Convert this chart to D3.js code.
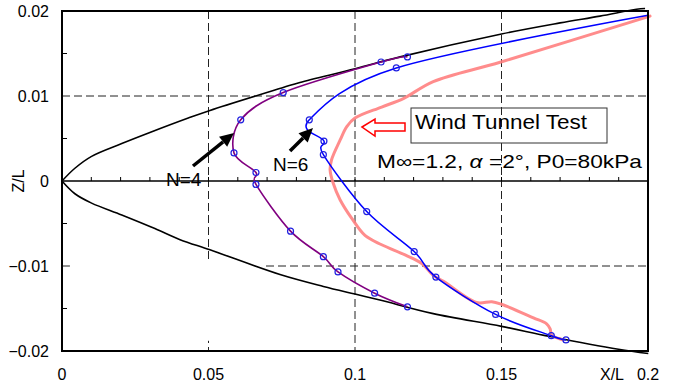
<!DOCTYPE html>
<html>
<head>
<meta charset="utf-8">
<script src="https://cdn.jsdelivr.net/npm/d3@7"></script>
<style>
  body { margin: 0; background: #fff; }
  svg { display: block; }
  text { font-family: "Liberation Sans", Arial, sans-serif; fill: #000; }
</style>
</head>
<body>
<svg id="chart" width="675" height="386"></svg>
<script>
// Axis ticks
const xTickValues = [0, 0.05, 0.1, 0.15, 0.2];
const xTickLabels = ["0", "0.05", "0.1", "0.15", "0.2"];
const yTickValues = [0.02, 0.01, 0, -0.01, -0.02];
const yTickLabels = ["0.02", "0.01", "0", "\u22120.01", "\u22120.02"];

// Body contour (upper and lower surfaces)
const bodyUpperX = [0, 0.0044, 0.0101, 0.0204, 0.0300, 0.0431, 0.0505, 0.0755, 0.0812, 0.1000, 0.1154, 0.1500, 0.1700, 0.1836, 0.1961, 0.1990];
const bodyUpperZ = [0, 0.0015, 0.0029, 0.0044, 0.0057, 0.0074, 0.0083, 0.0110, 0.0116, 0.0132, 0.0146, 0.0173, 0.0186, 0.0194, 0.0202, 0.0203];
const bodyLowerX = [0, 0.0044, 0.0101, 0.0204, 0.0317, 0.0403, 0.0505, 0.0744, 0.0892, 0.1000, 0.1085, 0.1267, 0.1500, 0.1666, 0.1899, 0.2001];
const bodyLowerZ = [0, -0.0015, -0.0026, -0.0040, -0.0056, -0.0069, -0.0081, -0.0110, -0.0124, -0.0133, -0.0140, -0.0156, -0.0171, -0.0183, -0.0198, -0.0203];

// Shock position, N=4 computation
const n4X = [0.1179, 0.1089, 0.0755, 0.0610, 0.0587, 0.0662, 0.0662, 0.0780, 0.0892, 0.0942, 0.1067, 0.1179];
const n4Z = [0.0146, 0.0140, 0.0104, 0.0072, 0.0033, 0.0010, -0.0004, -0.0059, -0.0089, -0.0107, -0.0132, -0.0148];

// Shock position, N=6 computation (first point is the trailing end, unmarked)
const n6X = [0.2000, 0.1141, 0.0844, 0.0894, 0.0892, 0.1040, 0.1202, 0.1276, 0.1480, 0.1670, 0.1720];
const n6Z = [0.0195, 0.0133, 0.0072, 0.0047, 0.0031, -0.0036, -0.0083, -0.0113, -0.0157, -0.0182, -0.0187];

// Shock position
const windX = [0.2007, 0.1498, 0.1267, 0.1165, 0.1091, 0.1000, 0.0972, 0.0949, 0.0920, 0.0915, 0.0926, 0.0949, 0.0989, 0.1034, 0.1091, 0.1171, 0.1228, 0.1267, 0.1302, 0.1415, 0.1467, 0.1500, 0.1609, 0.1654, 0.1666, 0.1671, 0.1711];
const windZ = [0.0194, 0.0140, 0.0117, 0.0097, 0.0087, 0.0074, 0.0064, 0.0048, 0.0025, 0.0013, -0.0003, -0.0022, -0.0044, -0.0064, -0.0075, -0.0087, -0.0097, -0.0111, -0.0118, -0.0143, -0.0142, -0.0145, -0.0161, -0.0168, -0.0174, -0.0181, -0.0187];

const svg = d3.select("#chart");
const x = d3.scaleLinear().domain([0, 0.2]).range([62, 648]);
const y = d3.scaleLinear().domain([-0.02, 0.02]).range([351, 11]);

const zip = (xs, zs) => xs.map((v, i) => [v, zs[i]]);
const line = (curve) => d3.line().x(d => x(d[0])).y(d => y(d[1])).curve(curve);

// Dashed grid
const grid = svg.append("g").attr("stroke", "#222").attr("stroke-width", 1).attr("stroke-dasharray", "8,4");
grid.selectAll("line.v").data([0.05, 0.1, 0.15]).join("line")
  .attr("x1", d => x(d)).attr("x2", d => x(d)).attr("y1", y(0.02)).attr("y2", y(-0.02));
grid.selectAll("line.h").data([0.01, -0.01]).join("line")
  .attr("x1", x(0)).attr("x2", x(0.2)).attr("y1", d => y(d)).attr("y2", d => y(d));

// Blank panel in the lower-left corner of the plot
svg.append("rect")
  .attr("x", x(0.0027)).attr("y", y(-0.0093))
  .attr("width", x(0.0683) - x(0.0027)).attr("height", y(-0.0188) - y(-0.0093))
  .attr("fill", "#fff");

// Zero line with minor ticks
svg.append("line").attr("x1", x(0)).attr("x2", x(0.2)).attr("y1", y(0)).attr("y2", y(0))
  .attr("stroke", "#000").attr("stroke-width", 1.5);
svg.append("g").selectAll("line").data(d3.range(1, 20).map(i => i * 0.01)).join("line")
  .attr("x1", d => x(d)).attr("x2", d => x(d)).attr("y1", y(0)).attr("y2", y(0) - 4)
  .attr("stroke", "#000").attr("stroke-width", 1);
// Left axis minor ticks
svg.append("g").selectAll("line").data([0.015, 0.005, -0.005, -0.015]).join("line")
  .attr("x1", x(0)).attr("x2", x(0) + 5).attr("y1", d => y(d)).attr("y2", d => y(d))
  .attr("stroke", "#000").attr("stroke-width", 1);

// Body contour
[[bodyUpperX, bodyUpperZ], [bodyLowerX, bodyLowerZ]].forEach(([xs, zs]) => {
  svg.append("path").attr("d", line(d3.curveCatmullRom.alpha(0.5))(zip(xs, zs)))
    .attr("fill", "none").attr("stroke", "#000").attr("stroke-width", 1.6);
});

// Wind tunnel trace
svg.append("path").attr("d", line(d3.curveCatmullRom.alpha(0.5))(zip(windX, windZ)))
  .attr("fill", "none").attr("stroke", "#ff8080").attr("stroke-opacity", 0.9)
  .attr("stroke-width", 3).attr("stroke-linejoin", "round").attr("stroke-linecap", "round");

// Computed shock lines
svg.append("path").attr("d", line(d3.curveCatmullRom.alpha(0))(zip(n6X, n6Z)))
  .attr("fill", "none").attr("stroke", "#0000ff").attr("stroke-width", 1.5);
svg.append("path").attr("d", line(d3.curveCatmullRom.alpha(0))(zip(n4X, n4Z)))
  .attr("fill", "none").attr("stroke", "#800080").attr("stroke-width", 1.6);

// Grid-point markers
const markers = zip(n6X, n6Z).slice(1).concat(zip(n4X, n4Z));
svg.append("g").selectAll("circle").data(markers).join("circle")
  .attr("cx", d => x(d[0])).attr("cy", d => y(d[1])).attr("r", 3)
  .attr("fill", "none").attr("stroke", "#2020e0").attr("stroke-width", 1.2);

// Plot frame
svg.append("rect").attr("x", x(0)).attr("y", y(0.02))
  .attr("width", x(0.2) - x(0)).attr("height", y(-0.02) - y(0.02))
  .attr("fill", "none").attr("stroke", "#000").attr("stroke-width", 2);

// Tick labels
svg.append("g").selectAll("text").data(xTickValues).join("text")
  .attr("x", d => x(d)).attr("y", 380).attr("text-anchor", "middle")
  .attr("font-size", 16).text((d, i) => xTickLabels[i]);
svg.append("g").selectAll("text").data(yTickValues).join("text")
  .attr("x", 49).attr("y", d => y(d) + 6).attr("text-anchor", "end")
  .attr("font-size", 16).text((d, i) => yTickLabels[i]);

// Axis titles
svg.append("text").attr("x", 612).attr("y", 380).attr("text-anchor", "middle")
  .attr("font-size", 16).text("X/L");
svg.append("text").attr("transform", "translate(24,181) rotate(-90)")
  .attr("text-anchor", "middle").attr("font-size", 16).text("Z/L");

// Callout arrows
function blackArrow(x1, y1, x2, y2) {
  const a = Math.atan2(y2 - y1, x2 - x1), L = 14, W = 6.5;
  const bx = x2 - L * Math.cos(a), by = y2 - L * Math.sin(a);
  svg.append("line").attr("x1", x1).attr("y1", y1).attr("x2", bx).attr("y2", by)
    .attr("stroke", "#000").attr("stroke-width", 3.5);
  svg.append("polygon").attr("fill", "#000").attr("points", [
    [x2, y2],
    [bx + W * Math.sin(a), by - W * Math.cos(a)],
    [bx - W * Math.sin(a), by + W * Math.cos(a)]
  ].map(p => p.join(",")).join(" "));
}
blackArrow(193, 166, 234, 133);
blackArrow(290, 151, 313, 128);

svg.append("text").attr("x", 166).attr("y", 186).attr("font-size", 19).text("N=4");
svg.append("text").attr("x", 273).attr("y", 171).attr("font-size", 19).text("N=6");

// Hollow red arrow pointing at the wind tunnel trace
svg.append("polygon")
  .attr("points", "362,127 375,119 375,123 405,123 405,131 375,131 375,136")
  .attr("fill", "#fff").attr("stroke", "#ff0000").attr("stroke-width", 1.5)
  .attr("stroke-linejoin", "miter");

// Legend box
svg.append("rect").attr("x", 411).attr("y", 108).attr("width", 196).attr("height", 35)
  .attr("fill", "none").attr("stroke", "#333").attr("stroke-width", 1);
svg.append("text").attr("x", 415).attr("y", 128.5).attr("font-size", 20)
  .attr("textLength", 172).attr("lengthAdjust", "spacingAndGlyphs").text("Wind Tunnel Test");

// Flow conditions
const cond = svg.append("text").attr("x", 377).attr("y", 168).attr("font-size", 19)
  .attr("textLength", 265).attr("lengthAdjust", "spacingAndGlyphs");
cond.append("tspan").text("M\u221e=1.2,  ");
cond.append("tspan").attr("font-style", "italic").text("\u03b1");
cond.append("tspan").text(" =2\u00b0, P0=80kPa");
</script>
</body>
</html>
